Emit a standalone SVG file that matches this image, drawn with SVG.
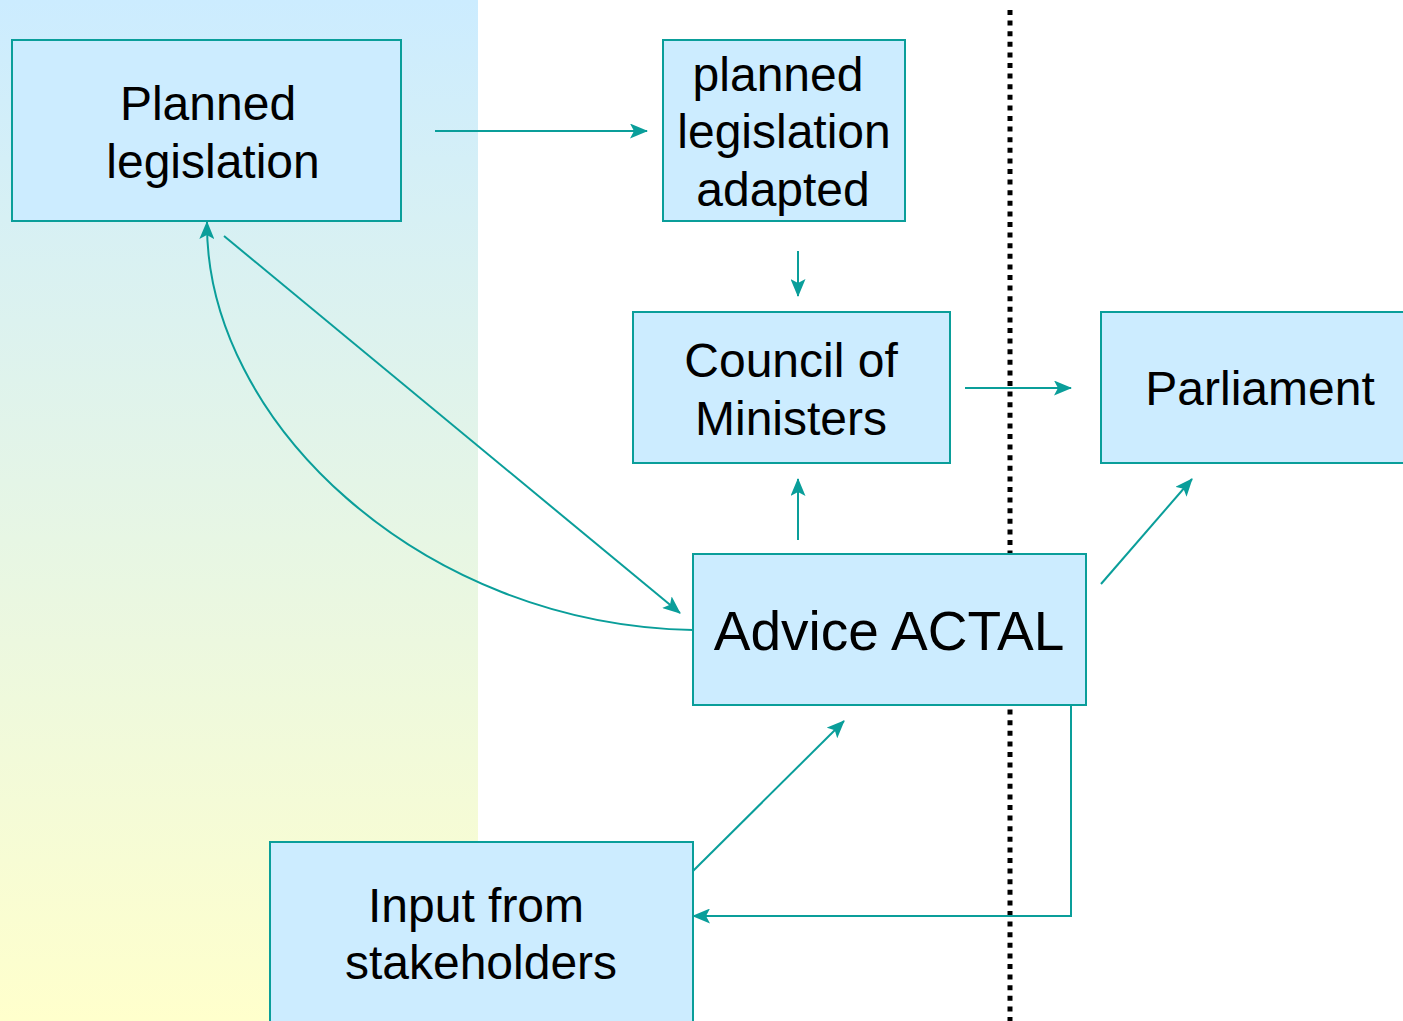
<svg xmlns="http://www.w3.org/2000/svg" width="1403" height="1021" viewBox="0 0 1403 1021">
<defs>
<linearGradient id="bg" x1="0" y1="0" x2="0" y2="1">
<stop offset="0" stop-color="#CCECFF"/>
<stop offset="1" stop-color="#FFFFCC"/>
</linearGradient>
<marker id="ah" markerUnits="userSpaceOnUse" markerWidth="18" markerHeight="15" viewBox="0 0 18 15" refX="17" refY="7.5" orient="auto">
<path d="M0,0 L18,7.5 L0,15 L4,7.5 Z" fill="#0A9E9A"/>
</marker>
<style>
.box{fill:#CCECFF;stroke:#0A9E9A;stroke-width:2}
.t{font-family:"Liberation Sans",Arial,sans-serif;font-size:48px;fill:#000;text-anchor:middle}
.c{fill:none;stroke:#0A9E9A;stroke-width:2}
.a{marker-end:url(#ah)}
</style>
</defs>
<rect x="0" y="0" width="1403" height="1021" fill="#FFFFFF"/>
<rect x="0" y="0" width="478" height="1021" fill="url(#bg)"/>
<line x1="1010" y1="10" x2="1010" y2="1021" stroke="#000" stroke-width="5" stroke-dasharray="5 5.6"/>
<g id="n1"><rect class="box" x="12" y="40" width="389" height="181"/><text class="t" x="208" y="120">Planned</text><text class="t" x="213" y="178">legislation</text></g>
<g id="n2"><rect class="box" x="663" y="40" width="242" height="181"/><text class="t" x="778" y="91">planned</text><text class="t" x="784" y="148">legislation</text><text class="t" x="783" y="206">adapted</text></g>
<g id="n3"><rect class="box" x="633" y="312" width="317" height="151"/><text class="t" x="791" y="377">Council of</text><text class="t" x="791" y="435">Ministers</text></g>
<g id="n4"><rect class="box" x="1101" y="312" width="304" height="151"/><text class="t" x="1260" y="405">Parliament</text></g>
<g id="n5"><rect class="box" x="693" y="554" width="393" height="151"/><text class="t" x="889" y="650" style="font-size:55px">Advice ACTAL</text></g>
<g id="n6"><rect class="box" x="270" y="842" width="423" height="182"/><text class="t" x="476" y="922">Input from</text><text class="t" x="481" y="979">stakeholders</text></g>
<g id="connectors">
<line class="c a" x1="435" y1="131" x2="647" y2="131"/>
<line class="c a" x1="798" y1="251" x2="798" y2="296"/>
<line class="c a" x1="965" y1="388" x2="1071" y2="388"/>
<line class="c a" x1="798" y1="540" x2="798" y2="479"/>
<line class="c a" x1="1101" y1="584" x2="1192" y2="479"/>
<line class="c a" x1="693" y1="871" x2="844" y2="721"/>
<polyline class="c a" points="1071,705 1071,916 693,916"/>
<line class="c a" x1="224" y1="236" x2="680" y2="613"/>
<path class="c a" d="M693,630 C420,625 205,420 207,222"/>
</g>
</svg>
